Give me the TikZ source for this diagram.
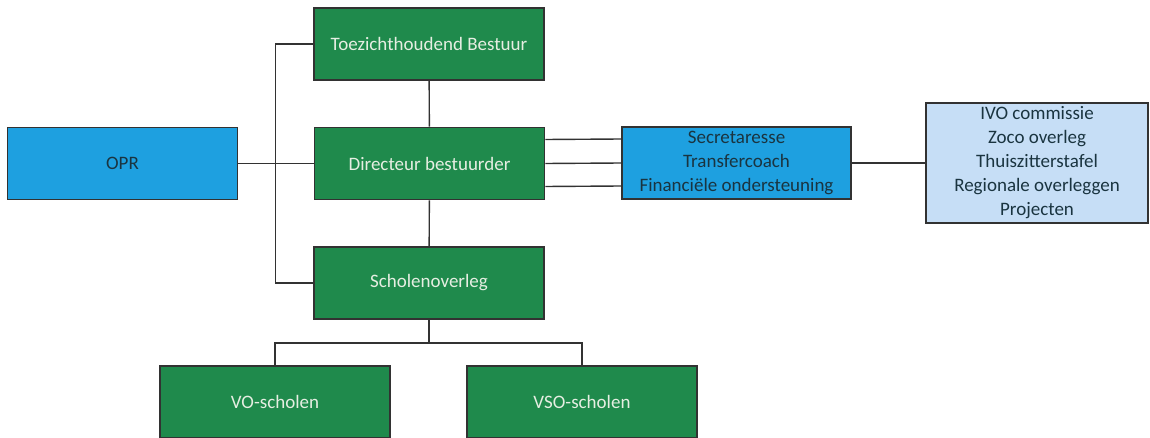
\documentclass[tikz,border=0pt]{standalone}
\usepackage{fontspec}
\setmainfont{Carlito}
\usepackage{xcolor}
\usetikzlibrary{positioning}
\definecolor{boxgreen}{RGB}{31,138,76}
\definecolor{boxblue}{RGB}{30,160,224}
\definecolor{paleblue}{RGB}{198,222,246}
\definecolor{greentext}{RGB}{230,238,226}
\definecolor{bluetext}{RGB}{26,52,64}
\definecolor{linegrey}{RGB}{50,50,50}
\tikzset{
    box/.style={draw=linegrey, line width=0.8pt, rectangle, font=\fontsize{9.5}{12}\selectfont, minimum width=115pt, minimum height=36pt, align=center, inner sep=0pt},
    greenbox/.style={box, fill=boxgreen, text=greentext},
    bluebox/.style={box, fill=boxblue, text=bluetext},
    link/.style={draw=linegrey, line width=0.7pt}
}
\begin{document}
\begin{tikzpicture}[x=0.5pt, y=-0.5pt]
    \useasboundingbox (0,0) rectangle (1150,438);
    \node (tb) [greenbox] at (429,44) {Toezichthoudend Bestuur};
    \node (dir) [greenbox] at (429.5,163.5) {Directeur bestuurder};
    \node (opr) [bluebox] at (122.5,163.5) {OPR};
    \node (scho) [greenbox] at (429,283) {Scholenoverleg};
    \node (sec) [bluebox, minimum width=114.5pt] at (736.5,163) {Secretaresse\\Transfercoach\\Financiële ondersteuning};
    \node (ivo) [box, fill=paleblue, text=bluetext, minimum width=111pt, minimum height=60pt] at (1037,163) {IVO commissie\\Zoco overleg\\Thuiszitterstafel\\Regionale overleggen\\Projecten};
    \node (vo) [greenbox] at (275,402) {VO-scholen};
    \node (vso) [greenbox] at (582,402) {VSO-scholen};
    \coordinate (bus) at (429,343);

    \draw [link] (tb.west) -- ++(-38,0) |- (scho.west);
    \draw [link] (opr) -- (dir);
    \draw [link] (tb) -- (dir);
    \draw [link] (dir) -- (scho);
    \draw [link] ([yshift=12pt]dir.east) -- ([yshift=12pt]sec.west);
    \draw [link] (dir.east) -- (sec.west);
    \draw [link] ([yshift=-11.5pt]dir.east) -- ([yshift=-11.5pt]sec.west);
    \draw [link] (sec) -- (ivo);
    \draw [link] (scho.south) -- (bus);
    \draw [link] (vo.north) |- (bus) -| (vso.north);
\end{tikzpicture}
\end{document}
